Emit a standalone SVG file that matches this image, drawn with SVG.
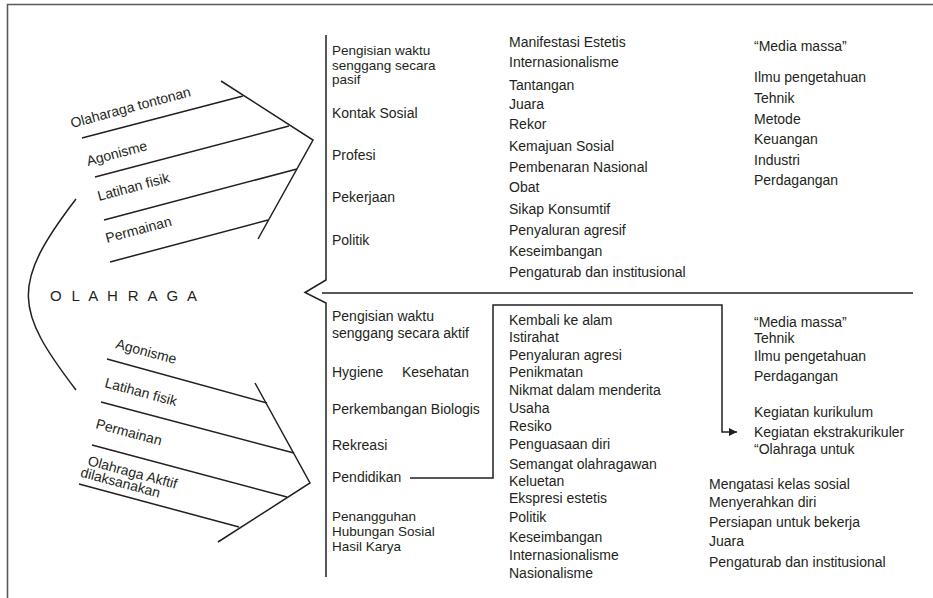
<svg xmlns="http://www.w3.org/2000/svg" width="933" height="598" viewBox="0 0 933 598">
<style>
text{font-family:"Liberation Sans",Arial,sans-serif;font-size:14px;fill:#231f20}
.sm{font-size:13.5px}
.ln{stroke:#231f20;stroke-width:1.5;fill:none}
.fr{stroke:#5a5a5a;stroke-width:1.6;fill:none}
</style>
<defs>
<marker id="ah" viewBox="0 0 10 10" refX="10" refY="5" markerWidth="10" markerHeight="8" markerUnits="userSpaceOnUse" orient="auto">
<path d="M0,0 L10,5 L0,10 Z" fill="#231f20"/>
</marker>
</defs>
<rect width="933" height="598" fill="#fff"/>
<g id="frame">
<path class="fr" d="M7.5,598 V4.5 H933"/>
</g>
<g id="olahraga">
<text x="50" y="301" style="font-size:15px;letter-spacing:2.8px">O L A H R A G A</text>
<path class="ln" d="M76,199 C10,285 15,310 76,390"/>
</g>
<g id="fishbone-top">
<path class="ln" d="M221,81 L313,140 L258,239"/>
<path class="ln" d="M82,138 L243,96 M95,177 L289,126 M104,220 L297,169 M110,262 L268,220"/>
<text transform="translate(72,128) rotate(-15)">Olaharaga tontonan</text>
<text transform="translate(88,166) rotate(-15)">Agonisme</text>
<text transform="translate(99,201) rotate(-15)">Latihan fisik</text>
<text transform="translate(107,243) rotate(-15)">Permainan</text>
</g>
<g id="fishbone-bottom">
<path class="ln" d="M255,383 L310,483 L218,542"/>
<path class="ln" d="M107,359 L267,403 M101,402 L294,453 M92,445 L287,497 M79,484 L239,527"/>
<text transform="translate(115,348) rotate(15)">Agonisme</text>
<text transform="translate(104,387) rotate(15)">Latihan fisik</text>
<text transform="translate(95,428) rotate(15)">Permainan</text>
<text transform="translate(87,465) rotate(15)">Olahraga Akftif<tspan x="-4" y="13">dilaksanakan</tspan></text>
</g>
<g id="brace">
<path class="ln" d="M326,35 V280 L305,292.5 L326,303 V577"/>
<path class="ln" d="M322,293 H913"/>
</g>
<g id="top-col1">
<text class="sm" x="332" y="55">Pengisian waktu</text>
<text class="sm" x="332" y="69.5">senggang secara</text>
<text class="sm" x="332" y="84">pasif</text>
<text x="332" y="118">Kontak Sosial</text>
<text x="332" y="160">Profesi</text>
<text x="332" y="202">Pekerjaan</text>
<text x="332" y="245">Politik</text>
</g>
<g id="top-col2">
<text x="509" y="47">Manifestasi Estetis</text>
<text x="509" y="67">Internasionalisme</text>
<text x="509" y="90">Tantangan</text>
<text x="509" y="109">Juara</text>
<text x="509" y="129">Rekor</text>
<text x="509" y="151">Kemajuan Sosial</text>
<text x="509" y="172">Pembenaran Nasional</text>
<text x="509" y="192">Obat</text>
<text x="509" y="214">Sikap Konsumtif</text>
<text x="509" y="235">Penyaluran agresif</text>
<text x="509" y="256">Keseimbangan</text>
<text x="509" y="277">Pengaturab dan institusional</text>
</g>
<g id="top-col3">
<text x="754" y="51">“Media massa”</text>
<text x="754" y="82">Ilmu pengetahuan</text>
<text x="754" y="103">Tehnik</text>
<text x="754" y="124">Metode</text>
<text x="754" y="144">Keuangan</text>
<text x="754" y="165">Industri</text>
<text x="754" y="185">Perdagangan</text>
</g>
<g id="bottom-col1">
<text x="332" y="321">Pengisian waktu</text>
<text x="332" y="338">senggang secara aktif</text>
<text x="332" y="377">Hygiene</text>
<text x="402" y="377">Kesehatan</text>
<text x="332" y="414">Perkembangan Biologis</text>
<text x="332" y="450">Rekreasi</text>
<text x="332" y="482">Pendidikan</text>
<text class="sm" x="332" y="521">Penangguhan</text>
<text class="sm" x="332" y="535.5">Hubungan Sosial</text>
<text class="sm" x="332" y="550.5">Hasil Karya</text>
</g>
<g id="bottom-col2">
<text x="509" y="325">Kembali ke alam</text>
<text x="509" y="342">Istirahat</text>
<text x="509" y="360">Penyaluran agresi</text>
<text x="509" y="377">Penikmatan</text>
<text x="509" y="395">Nikmat dalam menderita</text>
<text x="509" y="413">Usaha</text>
<text x="509" y="431">Resiko</text>
<text x="509" y="449">Penguasaan diri</text>
<text x="509" y="469">Semangat olahragawan</text>
<text x="509" y="486">Keluetan</text>
<text x="509" y="503">Ekspresi estetis</text>
<text x="509" y="522">Politik</text>
<text x="509" y="542">Keseimbangan</text>
<text x="509" y="560">Internasionalisme</text>
<text x="509" y="578">Nasionalisme</text>
</g>
<g id="bottom-col3">
<text x="754" y="327">“Media massa”</text>
<text x="754" y="343">Tehnik</text>
<text x="754" y="361">Ilmu pengetahuan</text>
<text x="754" y="381">Perdagangan</text>
<text x="754" y="417">Kegiatan kurikulum</text>
<text x="754" y="437">Kegiatan ekstrakurikuler</text>
<text x="754" y="454">“Olahraga untuk</text>
</g>
<g id="bottom-col4">
<text x="709" y="489">Mengatasi kelas sosial</text>
<text x="709" y="507">Menyerahkan diri</text>
<text x="709" y="527">Persiapan untuk bekerja</text>
<text x="709" y="546">Juara</text>
<text x="709" y="567">Pengaturab dan institusional</text>
</g>
<g id="connectors">
<path class="ln" d="M410,478 H493 V305 H722 V432 H737" marker-end="url(#ah)"/>
</g>
</svg>
